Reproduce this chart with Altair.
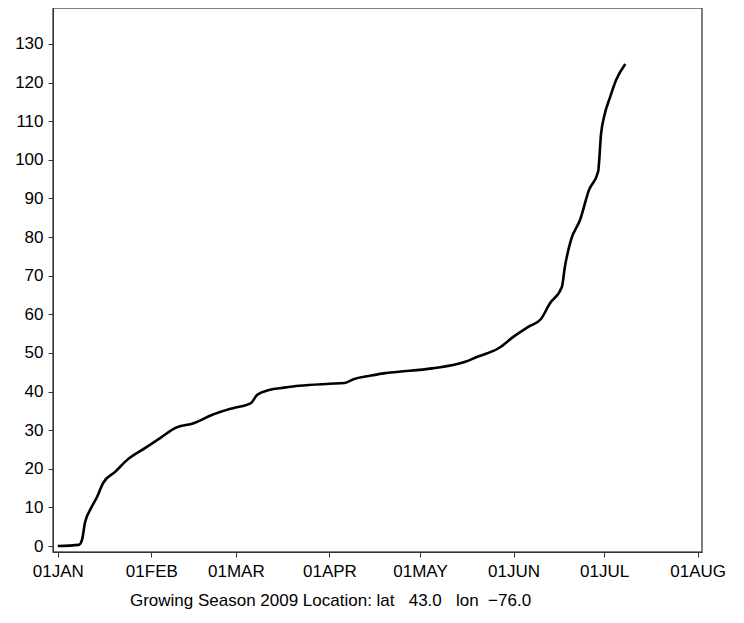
import altair as alt
import pandas as pd

dates = [
    "2009-01-01", "2009-01-08", "2009-01-09", "2009-01-10", "2009-01-12",
    "2009-01-14", "2009-01-16", "2009-01-20", "2009-01-24", "2009-01-30",
    "2009-02-04", "2009-02-09", "2009-02-15", "2009-02-21", "2009-02-28",
    "2009-03-06", "2009-03-08", "2009-03-12", "2009-03-17", "2009-03-22",
    "2009-04-01", "2009-04-06", "2009-04-09", "2009-04-14", "2009-04-19",
    "2009-04-24", "2009-05-05", "2009-05-16", "2009-05-20", "2009-05-27",
    "2009-06-01", "2009-06-06", "2009-06-10", "2009-06-13", "2009-06-17",
    "2009-06-18", "2009-06-20", "2009-06-23", "2009-06-26", "2009-06-29",
    "2009-06-30", "2009-07-01", "2009-07-03", "2009-07-05", "2009-07-08",
]
values = [
    0.0, 0.3, 1.5, 6.0, 9.8,
    12.7, 16.3, 19.2, 22.3, 25.4,
    28.0, 30.6, 31.8, 33.9, 35.7,
    37.0, 39.1, 40.4, 41.0, 41.5,
    42.0, 42.2, 43.2, 44.0, 44.7,
    45.1, 46.0, 47.7, 49.0, 51.2,
    54.2, 56.8, 58.7, 62.8, 67.1,
    72.3, 79.2, 84.4, 92.2, 96.9,
    106.9, 111.2, 116.3, 120.7, 124.8,
]
y_ticks = list(range(0, 131, 10))
month_ticks = [1, 2, 3, 4, 5, 6, 7, 8]
NB = "\u00a0"
title_text = ("Growing Season 2009 Location: lat" + NB * 3 + "43.0" + NB * 3
              + "lon" + NB * 2 + "\u221276.0")

df = pd.DataFrame({"date": dates, "value": values})

FONT = "Liberation Sans"

chart = alt.Chart(df).mark_line(color="black", strokeWidth=2.6, interpolate="monotone").encode(
    x=alt.X(
        "date:T",
        scale=alt.Scale(
            type="utc",
            domain=[
                alt.DateTime(year=2008, month=12, date=30, hours=10, utc=True),
                alt.DateTime(year=2009, month=8, date=2, hours=10, utc=True),
            ],
            nice=False,
        ),
        axis=alt.Axis(
            values=[alt.DateTime(year=2009, month=m, date=1, utc=True) for m in month_ticks],
            labelExpr="upper(utcFormat(datum.value, '%d%b'))",
            title=title_text,
            titleX=277,
            titleAnchor="start",
            titleAlign="center",
            titlePadding=13,
            grid=False,
            tickSize=5,
            labelPadding=6,
        ),
    ),
    y=alt.Y(
        "value:Q",
        scale=alt.Scale(domain=[-1.55, 139.3], nice=False, zero=False),
        axis=alt.Axis(values=y_ticks, title=None, grid=False, tickSize=5, labelPadding=5),
    ),
).properties(
    width=649,
    height=544,
    autosize=alt.AutoSizeParams(type="none"),
    padding={"left": 45, "top": 0, "right": 30, "bottom": 63},
).configure_axis(
    labelFont=FONT,
    labelFontSize=17,
    labelColor="black",
    titleFont=FONT,
    titleFontSize=17,
    titleFontWeight="normal",
    titleColor="black",
    domainColor="#333333",
    tickColor="#333333",
    tickWidth=1,
).configure_view(
    stroke="#555555",
    strokeWidth=1.5,
)

chart.save("out.html", embed_options={"renderer": "svg", "actions": False})
